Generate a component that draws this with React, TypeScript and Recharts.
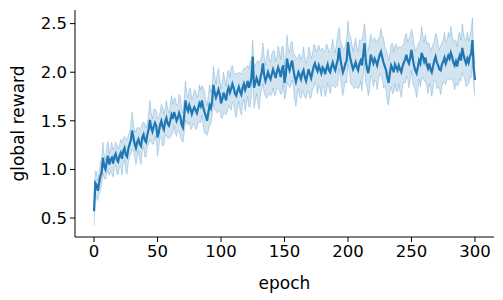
import { ComposedChart, Line, Area, XAxis, YAxis } from "recharts";

// mean global reward per epoch (0..300)
const meanReward = [
  0.57, 0.86, 0.84, 0.78, 0.86, 0.93, 0.97, 1.12, 1.03, 1.00,
  1.08, 1.14, 1.05, 1.10, 1.12, 1.06, 1.13, 1.16, 1.10, 1.08,
  1.14, 1.17, 1.11, 1.19, 1.22, 1.15, 1.13, 1.21, 1.26, 1.30,
  1.40, 1.33, 1.26, 1.22, 1.28, 1.31, 1.26, 1.24, 1.33, 1.36,
  1.30, 1.28, 1.36, 1.41, 1.51, 1.43, 1.39, 1.44, 1.48, 1.45,
  1.33, 1.38, 1.46, 1.50, 1.44, 1.41, 1.49, 1.53, 1.47, 1.45,
  1.50, 1.56, 1.52, 1.59, 1.55, 1.50, 1.53, 1.58, 1.54, 1.46,
  1.43, 1.55, 1.71, 1.63, 1.60, 1.66, 1.62, 1.57, 1.61, 1.64,
  1.61, 1.58, 1.63, 1.68, 1.65, 1.71, 1.64, 1.59, 1.55, 1.50,
  1.58, 1.66, 1.63, 1.70, 1.87, 1.79, 1.74, 1.78, 1.82, 1.77,
  1.68, 1.72, 1.79, 1.75, 1.71, 1.80, 1.84, 1.79, 1.83, 1.88,
  1.84, 1.78, 1.76, 1.81, 1.85, 1.80, 1.77, 1.84, 1.88, 1.82,
  1.86, 1.91, 1.84, 1.88, 1.95, 2.16, 1.84, 1.89, 1.94, 1.90,
  1.86, 1.94, 2.00, 2.09, 1.97, 1.91, 1.95, 2.00, 1.96, 1.93,
  1.98, 2.03, 1.99, 1.94, 2.00, 2.05, 2.01, 1.95, 2.03, 2.07,
  1.89, 1.97, 2.14, 2.06, 2.02, 2.08, 2.12, 2.03, 1.95, 1.90,
  1.95, 2.00, 1.97, 1.93, 1.99, 2.02, 1.95, 1.91, 1.97, 2.03,
  1.98, 1.94, 2.00, 2.06, 2.09, 2.04, 2.01, 2.07, 2.03, 1.99,
  2.05, 2.03, 1.98, 2.04, 2.08, 2.02, 2.00, 2.06, 2.10, 2.05,
  2.02, 2.08, 2.13, 2.25, 2.14, 2.06, 2.00, 2.04, 2.09, 2.12,
  2.31, 2.20, 2.13, 2.08, 2.03, 2.06, 2.10, 2.05, 2.02, 2.09,
  2.12, 2.07, 2.18, 2.30, 2.12, 2.04, 1.99, 2.07, 2.18, 2.13,
  2.09, 2.14, 2.11, 2.07, 2.13, 2.18, 2.21, 2.15, 2.10, 2.06,
  2.02, 1.94, 1.89, 1.99, 2.07, 2.04, 2.00, 2.08, 2.05, 2.02,
  2.07, 2.03, 2.00, 2.06, 2.10, 2.13, 2.18, 2.12, 2.09, 2.15,
  2.23, 2.14, 2.07, 2.02, 1.99, 2.05, 2.12, 2.09, 2.20, 2.16,
  2.11, 2.15, 2.08, 2.04, 2.09, 2.03, 2.00, 2.06, 2.12, 2.16,
  2.10, 2.07, 2.03, 2.02, 2.08, 2.11, 2.15, 2.09, 2.13, 2.17,
  2.14, 2.20, 2.16, 2.10, 2.07, 2.11, 2.06, 2.13, 2.17, 2.12,
  2.25, 2.18, 2.13, 2.09, 2.14, 2.10, 2.16, 2.19, 2.33, 2.05,
  1.92,
];

// half width of the confidence band per epoch
const ciHalf = [
  0.15, 0.12, 0.14, 0.10, 0.11, 0.15, 0.13, 0.16, 0.12, 0.10,
  0.13, 0.15, 0.11, 0.12, 0.16, 0.14, 0.10, 0.12, 0.15, 0.13,
  0.11, 0.14, 0.17, 0.13, 0.12, 0.16, 0.18, 0.14, 0.12, 0.15,
  0.19, 0.14, 0.13, 0.17, 0.15, 0.12, 0.16, 0.19, 0.14, 0.13,
  0.17, 0.15, 0.12, 0.16, 0.20, 0.15, 0.13, 0.18, 0.14, 0.16,
  0.19, 0.15, 0.13, 0.17, 0.20, 0.16, 0.14, 0.18, 0.15, 0.13,
  0.17, 0.20, 0.15, 0.14, 0.18, 0.16, 0.13, 0.19, 0.21, 0.16,
  0.15, 0.18, 0.20, 0.16, 0.14, 0.17, 0.21, 0.15, 0.14, 0.18,
  0.20, 0.16, 0.14, 0.19, 0.17, 0.15, 0.20, 0.22, 0.17, 0.15,
  0.18, 0.21, 0.16, 0.15, 0.19, 0.17, 0.14, 0.20, 0.22, 0.16,
  0.15, 0.19, 0.21, 0.17, 0.15, 0.20, 0.18, 0.16, 0.22, 0.19,
  0.16, 0.20, 0.23, 0.17, 0.15, 0.19, 0.21, 0.17, 0.16, 0.22,
  0.19, 0.16, 0.20, 0.23, 0.18, 0.17, 0.21, 0.19, 0.16, 0.22,
  0.24, 0.18, 0.17, 0.21, 0.19, 0.16, 0.22, 0.24, 0.18, 0.17,
  0.21, 0.19, 0.23, 0.17, 0.16, 0.22, 0.20, 0.18, 0.24, 0.19,
  0.17, 0.21, 0.24, 0.19, 0.18, 0.22, 0.20, 0.17, 0.23, 0.25,
  0.19, 0.17, 0.22, 0.20, 0.18, 0.24, 0.21, 0.18, 0.17, 0.23,
  0.25, 0.20, 0.18, 0.22, 0.19, 0.17, 0.23, 0.21, 0.19, 0.24,
  0.20, 0.18, 0.23, 0.25, 0.19, 0.18, 0.22, 0.20, 0.24, 0.19,
  0.18, 0.23, 0.26, 0.21, 0.19, 0.22, 0.24, 0.20, 0.18, 0.23,
  0.22, 0.19, 0.24, 0.21, 0.18, 0.23, 0.25, 0.20, 0.19, 0.24,
  0.21, 0.26, 0.22, 0.20, 0.24, 0.19, 0.23, 0.26, 0.21, 0.19,
  0.24, 0.22, 0.20, 0.25, 0.21, 0.19, 0.24, 0.22, 0.26, 0.20,
  0.21, 0.25, 0.23, 0.19, 0.22, 0.26, 0.21, 0.20, 0.24, 0.22,
  0.19, 0.23, 0.26, 0.21, 0.20, 0.24, 0.22, 0.19, 0.25, 0.23,
  0.21, 0.26, 0.22, 0.20, 0.25, 0.23, 0.19, 0.24, 0.27, 0.21,
  0.20, 0.24, 0.22, 0.26, 0.21, 0.19, 0.25, 0.23, 0.20, 0.24,
  0.27, 0.22, 0.20, 0.25, 0.23, 0.21, 0.26, 0.22, 0.20, 0.24,
  0.22, 0.27, 0.23, 0.21, 0.25, 0.22, 0.20, 0.26, 0.24, 0.21,
  0.25, 0.22, 0.20, 0.24, 0.27, 0.22, 0.21, 0.25, 0.23, 0.19,
  0.17,
];

const xTicks = [0, 50, 100, 150, 200, 250, 300];
const yTicks = [0.5, 1.0, 1.5, 2.0, 2.5];

const data = meanReward.map((m, i) => ({
  epoch: i,
  mean: m,
  band: [m - ciHalf[i], m + ciHalf[i]],
}));

const FONT = "DejaVu Sans";
const BLUE = "#1f77b4";

export default function App() {
  return (
    <div style={{ position: "absolute", left: 0, top: 0, background: "#fff" }}>
      <ComposedChart
        width={503}
        height={300}
        data={data}
        margin={{ top: 10, right: 9, bottom: 0, left: 0 }}
      >
        <XAxis
          dataKey="epoch"
          type="number"
          domain={[-15, 315]}
          ticks={xTicks}
          allowDataOverflow
          height={63}
          stroke="#000"
          tickSize={5}
          tickMargin={3}
          tick={{ fill: "#000", fontSize: 16.5, fontFamily: FONT }}
          label={{
            value: "epoch",
            position: "insideBottom",
            offset: 11,
            fill: "#000",
            fontSize: 17,
            fontFamily: FONT,
          }}
        />
        <YAxis
          type="number"
          domain={[0.305, 2.64]}
          ticks={yTicks}
          allowDataOverflow
          width={75}
          stroke="#000"
          tickSize={5}
          tickMargin={3}
          tickFormatter={(v: number) => v.toFixed(1)}
          tick={{ fill: "#000", fontSize: 16.5, fontFamily: FONT }}
          label={{
            value: "global reward",
            angle: -90,
            position: "insideLeft",
            offset: 18,
            style: { textAnchor: "middle" },
            fill: "#000",
            fontSize: 17,
            fontFamily: FONT,
          }}
        />
        <Area
          dataKey="band"
          type="linear"
          fill={BLUE}
          fillOpacity={0.2}
          stroke={BLUE}
          strokeOpacity={0.25}
          strokeWidth={1}
          isAnimationActive={false}
          dot={false}
          activeDot={false}
        />
        <Line
          dataKey="mean"
          type="linear"
          stroke={BLUE}
          strokeWidth={2.2}
          dot={false}
          activeDot={false}
          isAnimationActive={false}
        />
      </ComposedChart>
    </div>
  );
}
